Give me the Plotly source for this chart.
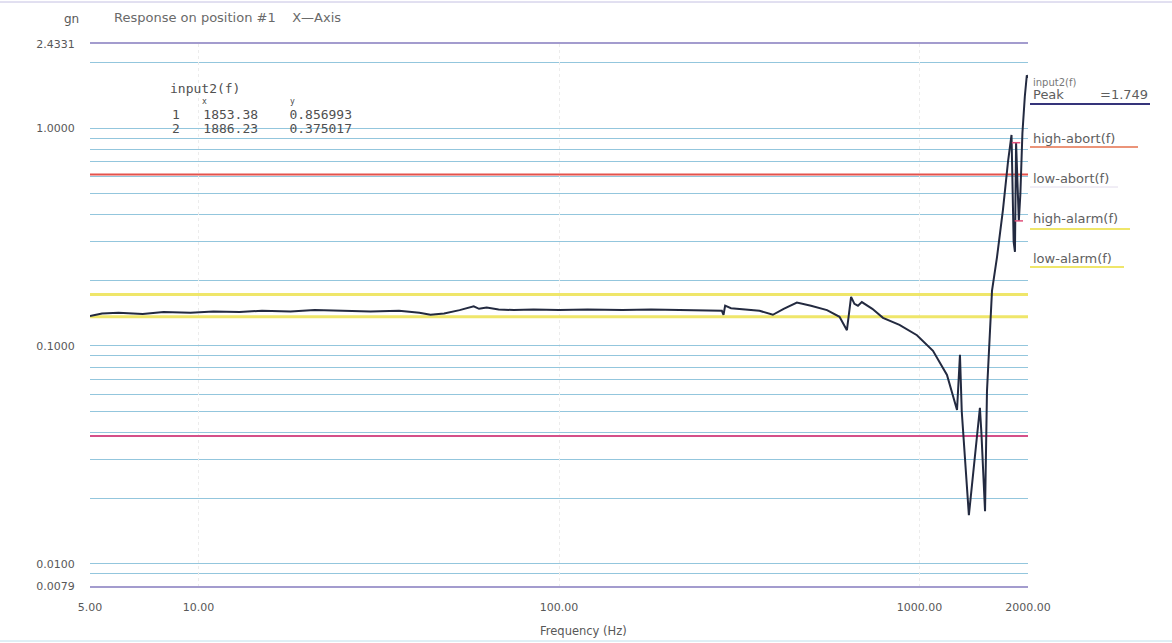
import numpy as np
import plotly.graph_objects as go

# response curve (Hz, gn)
freq_hz = [5.0, 5.4, 6.0, 7.0, 8.0, 9.5, 11, 13, 15, 18, 21, 25, 30, 36, 41, 44, 48, 53,
           56, 58, 60, 63, 68, 75, 85, 100, 120, 150, 180, 220, 260, 283, 286, 289, 300,
           330, 360, 392, 420, 457, 500, 554, 600, 629, 646, 660, 675, 692, 740, 792, 880,
           984, 1090, 1192, 1271, 1295, 1310, 1371, 1430, 1471, 1485, 1520, 1539, 1589,
           1640, 1704, 1760, 1800, 1825, 1840, 1853.38, 1870, 1886.23, 1905, 1930, 1960,
           1985, 2000]
response_gn = [0.137, 0.141, 0.142, 0.140, 0.143, 0.142, 0.144, 0.143, 0.145, 0.144, 0.146,
               0.145, 0.144, 0.145, 0.142, 0.139, 0.141, 0.146, 0.149, 0.152, 0.148, 0.150,
               0.147, 0.146, 0.147, 0.146, 0.147, 0.146, 0.147, 0.146, 0.145, 0.145, 0.139,
               0.153, 0.149, 0.147, 0.145, 0.139, 0.148, 0.158, 0.153, 0.146, 0.136, 0.118,
               0.168, 0.156, 0.153, 0.159, 0.148, 0.1345, 0.125, 0.112, 0.095, 0.0736, 0.0508,
               0.091, 0.050, 0.0167, 0.033, 0.052, 0.040, 0.0174, 0.062, 0.179, 0.254, 0.42,
               0.70, 0.93, 0.30, 0.27, 0.857, 0.60, 0.375, 0.50, 0.95, 1.40, 1.749, 1.70]

cursor_freq = [1853.38, 1886.23]
cursor_val = [0.856993, 0.375017]
peak_gn = 1.749

limit_names = ["high-abort(f)", "low-abort(f)", "high-alarm(f)", "low-alarm(f)"]
limit_levels = [0.612, 0.0386, 0.172, 0.136]
limit_colors = ["#e4524c", "#d4508a", "#efe66a", "#efe66a"]
limit_widths = [2, 2, 3, 3]

x_ticks = [5, 10, 100, 1000, 2000]
x_ticktext = ["5.00", "10.00", "100.00", "1000.00", "2000.00"]
y_ticks = [0.0079, 0.01, 0.1, 1.0, 2.4331]
y_ticktext = ["0.0079", "0.0100", "0.1000", "1.0000", "2.4331"]

W, H = 1172, 643
L, R, T, B = 90, 1028, 44, 586
GRID = "#93c6dd"
TEXT = "#585858"
FONT = "DejaVu Sans"
MONO = "DejaVu Sans Mono"


def px(x):
    return (x - L) / (R - L)


def py(y):
    return (B - y) / (B - T)


minor_vals = [m * 10.0 ** e for e in (-3, -2, -1, 0) for m in range(2, 10)]
minor_vals = [v for v in minor_vals if 0.0085 < v < y_ticks[-1]]

fig = go.Figure()

for name, lvl, col, w in zip(limit_names, limit_levels, limit_colors, limit_widths):
    fig.add_trace(go.Scatter(
        x=[x_ticks[0], x_ticks[-1]], y=[lvl, lvl],
        mode="lines", line=dict(color=col, width=w),
        name=name, hoverinfo="name", showlegend=False,
    ))

fig.add_trace(go.Scatter(
    x=freq_hz, y=response_gn, mode="lines",
    line=dict(color="#232a40", width=2),
    name="input2(f)", showlegend=False,
))

fig.add_trace(go.Scatter(
    x=cursor_freq, y=cursor_val, mode="markers",
    marker=dict(symbol="line-ew-open", size=6, color="#e0507a", line=dict(width=1.5, color="#e0507a")),
    showlegend=False, hoverinfo="x+y",
))

shapes = [
    # white panel behind the cursor readout
    dict(type="rect", xref="paper", yref="paper", layer="between",
         x0=px(164), x1=px(360), y0=py(138), y1=py(76),
         fillcolor="white", line=dict(width=0)),
    # scan edges
    dict(type="line", xref="paper", yref="paper", x0=px(0), x1=px(W), y0=py(2), y1=py(2),
         line=dict(color="#c4c0e2", width=1)),
    dict(type="line", xref="paper", yref="paper", x0=px(0), x1=px(W), y0=py(641), y1=py(641),
         line=dict(color="#bfe0ec", width=1)),
    # legend underlines
    dict(type="line", xref="paper", yref="paper", x0=px(1030), x1=px(1150), y0=py(104), y1=py(104),
         line=dict(color="#35347a", width=2)),
    dict(type="line", xref="paper", yref="paper", x0=px(1030), x1=px(1138), y0=py(147), y1=py(147),
         line=dict(color="#e4704c", width=1.5)),
    dict(type="line", xref="paper", yref="paper", x0=px(1030), x1=px(1118), y0=py(187), y1=py(187),
         line=dict(color="#e2dcec", width=1)),
    dict(type="line", xref="paper", yref="paper", x0=px(1030), x1=px(1130), y0=py(229), y1=py(229),
         line=dict(color="#efe66a", width=2)),
    dict(type="line", xref="paper", yref="paper", x0=px(1030), x1=px(1124), y0=py(267), y1=py(267),
         line=dict(color="#efe66a", width=2)),
]

mono = dict(family=MONO, size=13, color="#505050")
annotations = [
    dict(text="gn", x=px(71), y=py(19), xanchor="center", font=dict(family=FONT, size=12, color=TEXT)),
    dict(text="Response on position #1&nbsp;&nbsp;&nbsp;&nbsp;X\u2014Axis", x=px(112), y=py(18),
         xanchor="left", font=dict(family=FONT, size=13, color="#6a6a6a")),
    dict(text="input2(f)", x=px(168), y=py(88), xanchor="left", font=mono),
    dict(text="x", x=px(200), y=py(101), xanchor="left", font=dict(family=MONO, size=8, color="#4a4a4a")),
    dict(text="y", x=px(288), y=py(101), xanchor="left", font=dict(family=MONO, size=8, color="#4a4a4a")),
    dict(text="1&nbsp;&nbsp;&nbsp;%.2f&nbsp;&nbsp;&nbsp;&nbsp;%.6f" % (cursor_freq[0], cursor_val[0]),
         x=px(170), y=py(114), xanchor="left", font=mono),
    dict(text="2&nbsp;&nbsp;&nbsp;%.2f&nbsp;&nbsp;&nbsp;&nbsp;%.6f" % (cursor_freq[1], cursor_val[1]),
         x=px(170), y=py(128), xanchor="left", font=mono),
    dict(text="input2(f)", x=px(1031), y=py(82), xanchor="left", font=dict(family=FONT, size=10, color="#777")),
    dict(text="Peak", x=px(1031), y=py(95), xanchor="left"),
    dict(text="=%.3f" % peak_gn, x=px(1150), y=py(95), xanchor="right"),
    dict(text="Frequency (Hz)", x=px(583), y=py(631), xanchor="center", font=dict(family=FONT, size=11.5, color=TEXT)),
]
for name, ypix in zip(limit_names, [138, 178, 219, 258]):
    annotations.append(dict(text=name, x=px(1031), y=py(ypix), xanchor="left"))

for a in annotations:
    a.setdefault("xref", "paper")
    a.setdefault("yref", "paper")
    a.setdefault("yanchor", "middle")
    a.setdefault("showarrow", False)
    a.setdefault("font", dict(family=FONT, size=13, color="#5e5e5e"))

fig.update_layout(
    width=W, height=H,
    margin=dict(l=L, r=W - R, t=T, b=H - B, autoexpand=False),
    paper_bgcolor="white", plot_bgcolor="white",
    font=dict(family=FONT, size=11, color=TEXT),
    shapes=shapes, annotations=annotations,
    showlegend=False,
    xaxis=dict(
        type="log", range=[np.log10(x_ticks[0]), np.log10(x_ticks[-1])],
        tickmode="array", tickvals=x_ticks, ticktext=x_ticktext,
        ticks="outside", ticklen=10, tickcolor="rgba(0,0,0,0)",
        tickfont=dict(family=FONT, size=11, color=TEXT),
        showgrid=True, gridcolor="#ececec", griddash="dot", gridwidth=1,
        showline=True, mirror=True, linecolor="#a39cce", linewidth=1.5,
        zeroline=False,
    ),
    yaxis=dict(
        type="log", range=[np.log10(y_ticks[0]), np.log10(y_ticks[-1])],
        tickmode="array", tickvals=y_ticks, ticktext=y_ticktext,
        ticks="outside", ticklen=12, tickcolor="rgba(0,0,0,0)",
        tickfont=dict(family=FONT, size=11, color=TEXT),
        showgrid=True, gridcolor=GRID, gridwidth=1,
        minor=dict(tickmode="array", tickvals=minor_vals, showgrid=True,
                   gridcolor=GRID, gridwidth=1, ticks=""),
        showline=False, zeroline=False,
    ),
)

fig.write_html("out.html", config={"displayModeBar": False},
               post_script="document.body.style.margin='0';")
